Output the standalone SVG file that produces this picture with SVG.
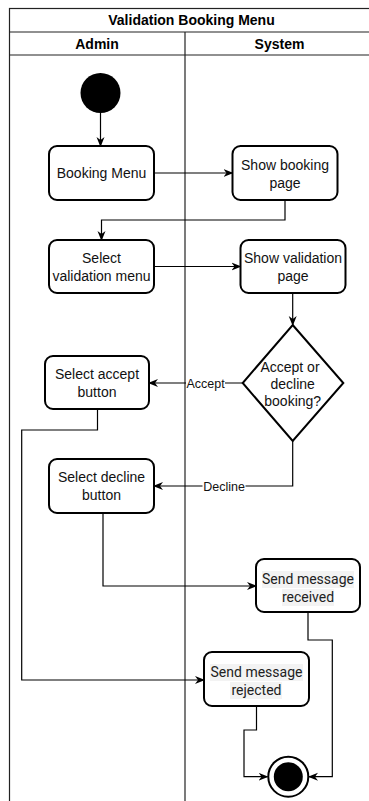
<svg xmlns="http://www.w3.org/2000/svg" width="369" height="801" viewBox="0 0 369 801">
<style>
.pool{fill:none;stroke:#222;stroke-width:1.2}
.hdr{font-family:"Liberation Sans",Arial,sans-serif;font-size:14px;font-weight:bold;fill:#000;text-anchor:middle}
.box{fill:#fff;stroke:#000;stroke-width:2}
.t{font-family:"Liberation Sans",Arial,sans-serif;font-size:14px;fill:#111;text-anchor:middle}
.r{font-family:Roboto,"Liberation Sans",sans-serif;font-size:14px;fill:#222;text-anchor:middle}
.tb{fill:#f3f3f3}
.edge{fill:none;stroke:#000;stroke-width:1.2}
.lbl{font-family:"Liberation Sans",Arial,sans-serif;font-size:12.5px;fill:#111;text-anchor:middle}
.lblbg{fill:#fff}
</style>
<defs>
<marker id="arr" viewBox="0 0 10 10" refX="9" refY="5" markerWidth="10" markerHeight="10" markerUnits="userSpaceOnUse" orient="auto">
<path d="M0,1 L10,5 L0,9 L3,5 z" fill="#000"/>
</marker>
</defs>
<g id="pool">
<rect class="pool" x="9.5" y="8.5" width="365" height="800"/>
<line class="pool" x1="9.5" y1="32" x2="374.5" y2="32"/>
<line class="pool" x1="9.5" y1="55" x2="374.5" y2="55"/>
<line class="pool" x1="185" y1="32" x2="185" y2="801"/>
<text class="hdr" x="191.5" y="25">Validation Booking Menu</text>
<text class="hdr" x="97" y="48.5">Admin</text>
<text class="hdr" x="279.5" y="48.5">System</text>
</g>
<g id="connectors">
<line class="edge" x1="100.5" y1="113" x2="100.5" y2="146" marker-end="url(#arr)"/>
<line class="edge" x1="154" y1="173" x2="232.5" y2="173" marker-end="url(#arr)"/>
<polyline class="edge" points="285,200 285,220 101.5,220 101.5,240" marker-end="url(#arr)"/>
<line class="edge" x1="154" y1="266.5" x2="240.5" y2="266.5" marker-end="url(#arr)"/>
<line class="edge" x1="292.7" y1="293" x2="292.7" y2="325" marker-end="url(#arr)"/>
<line class="edge" x1="242.7" y1="383" x2="149" y2="383" marker-end="url(#arr)"/>
<polyline class="edge" points="292.7,441 292.7,486 154,486" marker-end="url(#arr)"/>
<polyline class="edge" points="97.5,409 97.5,430 21.7,430 21.7,680 204,680" marker-end="url(#arr)"/>
<polyline class="edge" points="103,513 103,586 256,586" marker-end="url(#arr)"/>
<polyline class="edge" points="308,612 308,640 332.3,640 332.3,776.7 309,776.7" marker-end="url(#arr)"/>
<polyline class="edge" points="256.5,706 256.5,730 244,730 244,776.7 267.5,776.7" marker-end="url(#arr)"/>
<rect class="lblbg" x="186" y="376" width="39" height="14"/>
<text class="lbl" x="205.5" y="387.5">Accept</text>
<rect class="lblbg" x="202.5" y="479" width="43" height="14"/>
<text class="lbl" x="224" y="490.5">Decline</text>
</g>
<g id="start">
<circle cx="100.5" cy="93" r="20" fill="#000"/>
</g>
<g id="booking-menu">
<rect class="box" x="49" y="146" width="105" height="54" rx="8"/>
<text class="t" x="101.5" y="178">Booking Menu</text>
</g>
<g id="show-booking-page">
<rect class="box" x="232.5" y="146" width="105" height="54" rx="8"/>
<text class="t" x="285" y="170">Show booking</text>
<text class="t" x="285" y="188">page</text>
</g>
<g id="select-validation-menu">
<rect class="box" x="49" y="240" width="105" height="53" rx="8"/>
<text class="t" x="101.5" y="263">Select</text>
<text class="t" x="101.5" y="281">validation menu</text>
</g>
<g id="show-validation-page">
<rect class="box" x="240.5" y="240" width="105" height="53" rx="8"/>
<text class="t" x="293" y="263">Show validation</text>
<text class="t" x="293" y="281">page</text>
</g>
<g id="decision">
<polygon class="box" points="292.7,325 343.3,383 292.7,441 242.7,383"/>
<text class="t" x="290" y="371.5">Accept or</text>
<text class="t" x="292.7" y="388.5">decline</text>
<text class="t" x="292.7" y="406">booking?</text>
</g>
<g id="select-accept-button">
<rect class="box" x="45" y="356" width="104" height="53" rx="8"/>
<text class="t" x="97" y="379">Select accept</text>
<text class="t" x="97" y="397">button</text>
</g>
<g id="select-decline-button">
<rect class="box" x="49" y="459" width="105" height="54" rx="8"/>
<text class="t" x="101.5" y="482">Select decline</text>
<text class="t" x="101.5" y="500">button</text>
</g>
<g id="send-message-received">
<rect class="box" x="256" y="559" width="104" height="53" rx="8"/>
<rect class="tb" x="262" y="571" width="92" height="17"/>
<rect class="tb" x="282" y="589" width="52" height="17"/>
<text class="r" x="308" y="584">Send message</text>
<text class="r" x="308" y="602">received</text>
</g>
<g id="send-message-rejected">
<rect class="box" x="204" y="652" width="105" height="54" rx="8"/>
<rect class="tb" x="210" y="664" width="93" height="17"/>
<rect class="tb" x="230" y="682" width="52" height="17"/>
<text class="r" x="256.5" y="677">Send message</text>
<text class="r" x="256.5" y="695">rejected</text>
</g>
<g id="end">
<circle cx="288.3" cy="776.7" r="20" fill="#fff" stroke="#000" stroke-width="2"/>
<circle cx="288.3" cy="776.7" r="14.5" fill="#000"/>
</g>
</svg>
